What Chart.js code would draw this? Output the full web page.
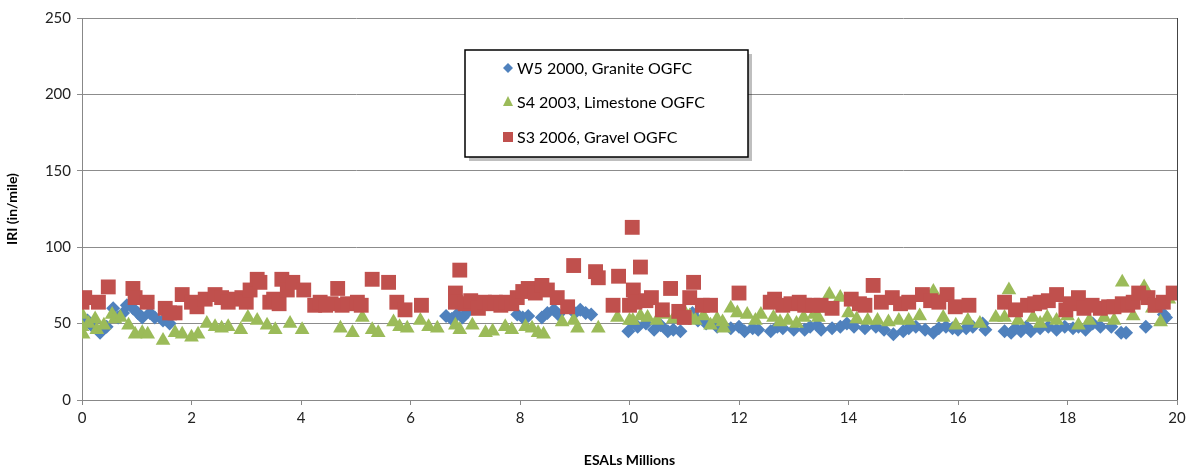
<!DOCTYPE html>
<html><head><meta charset="utf-8">
<script src="https://cdn.jsdelivr.net/npm/chart.js@4/dist/chart.umd.min.js"></script>
<style>html,body{margin:0;padding:0;background:#fff;}#wrap{width:1194px;height:473px;position:relative;}</style>
</head><body><div id="wrap"><canvas id="c" width="1194" height="473"></canvas></div>
<script>
const seriesNames = ["W5 2000, Granite OGFC", "S4 2003, Limestone OGFC", "S3 2006, Gravel OGFC"];
const xTickStep = 2, yTickStep = 50;
const axisTitles = ["ESALs Millions", "IRI (in/mile)"];

const blueX = [0.0,0.1,0.2,0.33,0.45,0.57,0.66,0.75,0.82,0.93,1.02,1.1,1.24,1.33,1.48,1.6,
 6.65,6.75,6.85,6.95,7.05,7.95,8.05,8.15,8.4,8.5,8.62,8.7,9.0,9.1,9.2,9.3,
 9.98,10.05,10.15,10.3,10.45,10.57,10.7,10.8,10.93,11.15,11.25,11.4,11.6,11.85,12.0,12.1,12.25,12.35,12.58,12.7,12.8,13.0,13.2,13.3,13.43,13.5,13.7,13.85,13.97,14.1,14.3,14.5,14.65,14.82,15.0,15.1,15.23,15.4,15.55,15.65,15.78,15.9,16.0,16.15,16.27,16.45,16.5,
 16.85,16.97,17.05,17.15,17.25,17.33,17.5,17.65,17.8,17.95,18.1,18.2,18.33,18.46,18.6,18.8,18.98,19.07,19.43,19.76,19.8];
const blueY = [50,52,48,44,48,60,54,57,62,60,57,54,57,54,52,50,
 55,53,56,54,58,56,54,55,54,57,59,56,57,59,57,56,
 45,51,48,50,46,49,45,46,45,57,52,50,48,47,48,45,47,46,45,48,47,46,46,48,49,46,47,48,50,48,47,48,46,43,45,47,48,46,44,47,48,47,46,47,48,50,46,
 45,44,47,45,48,45,47,48,46,48,47,48,46,50,48,48,44,44,48,56,54];

const greenX = [0,0,0.02,0.12,0.24,0.27,0.4,0.55,0.6,0.7,0.85,0.97,1.1,1.2,1.48,1.7,1.83,2.0,2.12,2.28,2.43,2.55,2.67,2.9,3.03,3.2,3.38,3.53,3.8,4.02,4.72,4.94,5.12,5.3,5.41,5.69,5.8,5.94,6.18,6.33,6.49,6.82,6.9,7.13,7.37,7.5,7.73,7.85,8.1,8.22,8.33,8.43,8.77,8.98,9.05,9.43,9.78,10.0,10.06,10.2,10.33,10.5,10.65,10.8,11.0,11.1,11.2,11.35,11.48,11.6,11.7,11.72,11.85,11.97,12.15,12.3,12.4,12.63,12.75,12.89,13.05,13.18,13.37,13.45,13.55,13.65,13.85,14.0,14.15,14.35,14.53,14.73,14.92,15.1,15.3,15.55,15.73,15.96,16.18,16.4,16.69,16.85,16.93,17.1,17.37,17.5,17.63,17.8,18.0,18.2,18.4,18.67,18.85,19.0,19.2,19.4,19.55,19.7,19.85];
const greenY = [56,48,43,50,53,46,49,56,53,54,49,43,44,43,39,44,43,41,43,50,48,47,48,46,54,52,49,46,50,46,47,44,54,46,44,51,48,47,52,48,47,49,46,49,44,45,48,46,48,47,44,43,51,52,47,47,54,52,52,55,54,52,56,53,58,55,52,55,49,53,51,47,60,57,56,52,56,54,51,52,50,54,56,54,60,69,67,57,53,52,52,51,52,52,55,71,54,49,52,50,54,54,72,52,54,50,54,52,55,49,52,54,52,77,55,74,60,51,66];

const redX = [0.0,0.05,0.3,0.48,0.93,0.97,1.19,1.52,1.6,1.7,1.83,2.0,2.1,2.25,2.43,2.55,2.67,2.8,2.92,3.0,3.07,3.2,3.25,3.43,3.5,3.6,3.65,3.75,3.85,4.05,4.25,4.35,4.45,4.55,4.67,4.75,4.85,5.03,5.1,5.3,5.6,5.75,5.9,6.2,6.82,6.82,6.9,7.0,7.1,7.24,7.35,7.45,7.55,7.65,7.75,7.85,7.95,8.05,8.15,8.28,8.4,8.5,8.68,8.87,8.98,9.38,9.43,9.7,9.8,10.0,10.05,10.07,10.1,10.2,10.3,10.4,10.6,10.75,10.9,11.0,11.1,11.17,11.33,11.48,12.0,12.57,12.65,12.8,12.95,13.1,13.2,13.35,13.5,13.7,14.05,14.2,14.3,14.45,14.6,14.8,14.95,15.1,15.35,15.5,15.65,15.8,15.95,16.2,16.85,17.05,17.27,17.4,17.5,17.65,17.8,17.97,18.05,18.2,18.3,18.45,18.6,18.75,18.85,19.0,19.1,19.2,19.3,19.47,19.6,19.75,19.93];
const redY = [64,67,64,74,73,67,64,60,57,57,69,64,61,66,69,67,64,66,67,64,72,79,77,64,66,63,79,72,77,72,62,64,62,63,73,62,63,64,62,79,77,64,59,62,70,64,85,63,65,60,64,63,64,62,64,63,67,71,73,70,75,72,67,61,88,84,80,62,81,62,113,72,64,87,65,67,59,73,58,54,67,77,62,62,70,64,66,62,63,64,62,62,62,60,66,63,62,75,64,67,63,64,69,65,64,69,61,62,64,59,62,63,64,65,69,59,63,67,60,62,60,61,61,63,62,64,70,67,62,64,70];

const BLUE = '#4F81BD', GREEN = '#9BBB59', RED = '#C0504D';
const pts = (xs, ys) => xs.map((x, i) => ({x: x, y: ys[i]}));

const legendBox = {
  id: 'legendBox',
  afterDraw(chart) {
    const ctx = chart.ctx, a = chart.chartArea;
    const L = a.left + 383, T = a.top + 32, W = 283, H = 107;
    ctx.save();
    ctx.fillStyle = 'rgba(0,0,0,0.25)';
    ctx.fillRect(L + 4, T + 4, W, H);
    ctx.fillStyle = '#fff';
    ctx.fillRect(L, T, W, H);
    ctx.strokeStyle = '#000';
    ctx.lineWidth = 1.5;
    ctx.strokeRect(L, T, W, H);
    const rows = [T + 18, T + 52, T + 87];
    const mx = L + 43;
    ctx.font = '16px Lato, "Liberation Sans", sans-serif';
    ctx.textBaseline = 'middle';
    chart.data.datasets.slice().sort((p, q) => p.legendIndex - q.legendIndex).forEach((ds, i) => {
      const y = rows[i];
      ctx.fillStyle = ds.backgroundColor;
      ctx.beginPath();
      if (ds.pointStyle === 'rectRot') {
        ctx.moveTo(mx - 5, y); ctx.lineTo(mx, y - 5); ctx.lineTo(mx + 5, y); ctx.lineTo(mx, y + 5);
      } else if (ds.pointStyle === 'triangle') {
        ctx.moveTo(mx, y - 6); ctx.lineTo(mx + 5, y + 4); ctx.lineTo(mx - 5, y + 4);
      } else {
        ctx.rect(mx - 5, y - 5, 10, 10);
      }
      ctx.closePath(); ctx.fill();
      ctx.fillStyle = '#000';
      ctx.fillText(ds.label, mx + 9, y + 1);
    });
    ctx.strokeStyle = '#444';
    ctx.lineWidth = 1;
    ctx.beginPath();
    ctx.moveTo(a.right + 0.5, a.top);
    ctx.lineTo(a.right + 0.5, a.bottom);
    ctx.stroke();
    ctx.restore();
  }
};

new Chart(document.getElementById('c'), {
  type: 'scatter',
  data: {
    datasets: [
      {label: seriesNames[0], data: pts(blueX, blueY), pointStyle: 'rectRot', pointRadius: 7, backgroundColor: BLUE, borderColor: BLUE, borderWidth: 0, order: 2, legendIndex: 0},
      {label: seriesNames[1], data: pts(greenX, greenY), pointStyle: 'triangle', pointRadius: 8.5, backgroundColor: GREEN, borderColor: GREEN, borderWidth: 0, order: 1, legendIndex: 1},
      {label: seriesNames[2], data: pts(redX, redY), pointStyle: 'rect', pointRadius: 10.5, backgroundColor: RED, borderColor: RED, borderWidth: 0, order: 0, legendIndex: 2}
    ]
  },
  options: {
    responsive: false,
    animation: false,
    events: [],
    layout: {padding: {top: 18, right: 17, left: 0, bottom: 0}},
    plugins: {legend: {display: false}, tooltip: {enabled: false}},
    scales: {
      x: {
        type: 'linear', min: 0, max: 20,
        afterFit(s) { s.height = 73; },
        ticks: {stepSize: xTickStep, color: '#222', font: {family: 'Lato, "Liberation Sans", sans-serif', size: 15}, padding: 4},
        grid: {drawOnChartArea: false, drawTicks: true, tickLength: 5, color: '#888'},
        border: {display: true, color: '#888'},
        title: {display: true, text: axisTitles[0], color: '#000', font: {family: 'Lato, "Liberation Sans", sans-serif', size: 14, weight: 'bold'}, padding: {top: 17}}
      },
      y: {
        min: 0, max: 250,
        afterFit(s) { s.width = 82; },
        ticks: {stepSize: yTickStep, color: '#222', font: {family: 'Lato, "Liberation Sans", sans-serif', size: 15}, padding: 6},
        grid: {color: '#8c8c8c', tickLength: 5, drawTicks: true},
        border: {display: true, color: '#888'},
        title: {display: true, text: axisTitles[1], color: '#000', font: {family: 'Lato, "Liberation Sans", sans-serif', size: 14, weight: 'bold'}, padding: {bottom: 14}}
      }
    }
  },
  plugins: [legendBox]
});
</script>
</body></html>
